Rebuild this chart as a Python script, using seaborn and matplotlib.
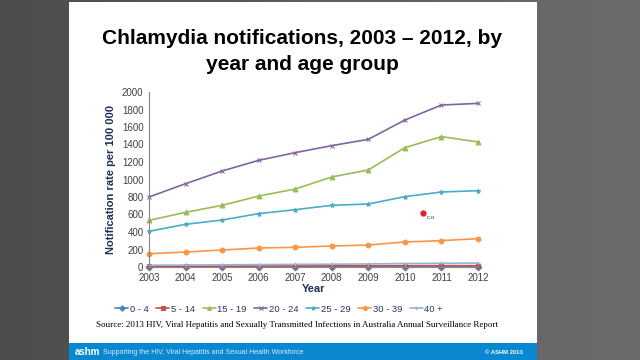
import numpy as np
import pandas as pd
import matplotlib.pyplot as plt
import matplotlib.patches as mpatches
import seaborn as sns

# chart values
years = list(range(2003, 2013))
age_groups = ['0 - 4', '5 - 14', '15 - 19', '20 - 24', '25 - 29', '30 - 39', '40 +']
rate_0_4 = [2, 2, 2, 2, 2, 2, 2, 2, 2, 2]
rate_5_14 = [8, 9, 10, 11, 12, 13, 14, 15, 16, 15]
rate_15_19 = [533, 625, 705, 811, 891, 1029, 1109, 1364, 1490, 1429]
rate_20_24 = [800, 952, 1097, 1219, 1307, 1387, 1459, 1680, 1851, 1870]
rate_25_29 = [408, 488, 537, 610, 655, 705, 720, 804, 857, 872]
rate_30_39 = [152, 171, 194, 217, 225, 240, 251, 286, 301, 324]
rate_40_plus = [20, 22, 25, 27, 30, 32, 35, 40, 43, 45]

colors = ['#4f81bd', '#c0504d', '#9bbb59', '#8064a2', '#4bacc6', '#f79646', '#95b3d7']
markers = ['D', 's', '^', 'x', '*', 'o', '+']

rows = []
for g, vals in zip(age_groups, [rate_0_4, rate_5_14, rate_15_19, rate_20_24,
                                rate_25_29, rate_30_39, rate_40_plus]):
    for y, v in zip(years, vals):
        rows.append({'Year': y, 'Rate': v, 'Age': g})
df = pd.DataFrame(rows)

sns.set_style('white')
plt.rcParams['font.family'] = ['Liberation Sans', 'DejaVu Sans']

fig = plt.figure(figsize=(6.4, 3.6), dpi=100)

# grey backdrop with a soft gradient
bg = fig.add_axes([0, 0, 1, 1], zorder=-10)
grad = np.linspace(0, 1, 256).reshape(1, -1)
bg.imshow(grad, aspect='auto', cmap=plt.matplotlib.colors.LinearSegmentedColormap.from_list(
    'g', ['#4c4c4c', '#5e5e5e', '#6c6c6c']), extent=[0, 1, 0, 1])
bg.set_xlim(0, 1)
bg.set_ylim(0, 1)
bg.axis('off')

# white slide and blue footer
fig.patches.append(mpatches.Rectangle((69/640, 1-343/360), (537-69)/640, 341/360,
                                      transform=fig.transFigure, facecolor='white',
                                      edgecolor='none', zorder=-5))
fig.patches.append(mpatches.Rectangle((69/640, 0), (537-69)/640, 17/360,
                                      transform=fig.transFigure, facecolor='#0a87d1',
                                      edgecolor='none', zorder=-5))

fig.text(302/640, 1-39/360, 'Chlamydia notifications, 2003 \u2013 2012, by',
         ha='center', va='center', fontsize=15, fontweight='bold', color='black')
fig.text(302/640, 1-65/360, 'year and age group',
         ha='center', va='center', fontsize=15, fontweight='bold', color='black')

ax = fig.add_axes([149/640, 1-267/360, (478-149)/640, 175/360])
ax.set_facecolor('none')
for i, g in enumerate(age_groups):
    sub = df[df['Age'] == g]
    sns.lineplot(data=sub, x='Year', y='Rate', ax=ax, color=colors[i], marker=markers[i],
                 markersize=3.5, markeredgecolor=colors[i], linewidth=1.2, label=g,
                 clip_on=False)

ax.set_xlim(2003, 2012)
ax.set_ylim(0, 2000)
ax.set_xticks(years)
ax.set_yticks(range(0, 2001, 200))
ax.tick_params(axis='both', labelsize=7, colors='#404040', length=2, pad=2)
for s in ['top', 'right']:
    ax.spines[s].set_visible(False)
for s in ['left', 'bottom']:
    ax.spines[s].set_color('#888888')
    ax.spines[s].set_linewidth(0.8)
ax.set_xlabel('Year', fontsize=8, fontweight='bold', color='#1f2f5a', labelpad=1)
ax.set_ylabel('Notification rate per 100 000', fontsize=8, fontweight='bold',
              color='#1f2f5a', labelpad=4)

# stray red dot on the slide
ax.plot([2010.5], [620], 'o', color='#e0202a', markersize=3.5, clip_on=False)
ax.text(2010.6, 570, 'c.o', fontsize=4.5, color='#444444', ha='left', va='center')

leg = ax.legend(loc='center', ncol=7, frameon=False,
                fontsize=6.8, handlelength=1.4, handletextpad=0.15, columnspacing=0.8,
                markerscale=0.8)
leg.set_bbox_to_anchor((279/640, 1-309/360), transform=fig.transFigure)
for t in leg.get_texts():
    t.set_color('#2a3560')

fig.text(297/640, 1-325/360,
         'Source: 2013 HIV, Viral Hepatitis and Sexually Transmitted Infections in Australia Annual Surveillance Report',
         ha='center', va='center', fontsize=6.5, family='Liberation Serif', color='black')

fig.text(75/640, 1-352/360, 'ashm', ha='left', va='center', fontsize=7,
         fontweight='bold', color='white')
fig.text(103/640, 1-352/360, 'Supporting the HIV, Viral Hepatitis and Sexual Health Workforce',
         ha='left', va='center', fontsize=5, color='#dceeff')
fig.text(523/640, 1-352/360, '\u00a9 ASHM 2013', ha='right', va='center', fontsize=4.2,
         fontweight='bold', color='white')

fig.savefig('out.png', dpi=100)
